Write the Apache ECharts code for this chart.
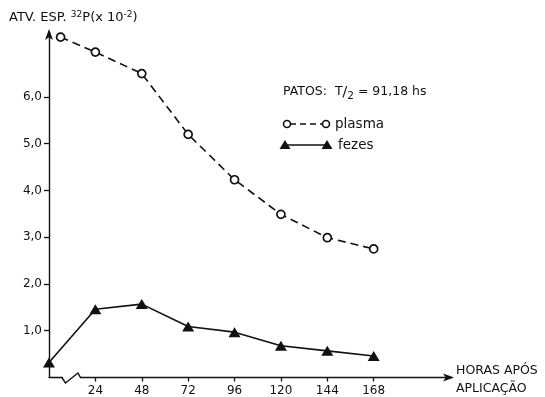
<!DOCTYPE html>
<html>
<head>
<meta charset="utf-8">
<script src="https://cdn.jsdelivr.net/npm/echarts@6/dist/echarts.min.js"></script>
<style>
html,body{margin:0;padding:0;background:#fff;}
#c{width:545px;height:397px;}
</style>
</head>
<body>
<div id="c"></div>
<script>
// ---- data ----
const fezesHours = [0, 24, 48, 72, 96, 120, 144, 168];
const fezes = [0.32, 1.46, 1.57, 1.09, 0.97, 0.68, 0.57, 0.46];
const plasmaHours = [6, 24, 48, 72, 96, 120, 144, 168];
const plasma = [7.28, 6.96, 6.50, 5.20, 4.23, 3.49, 2.99, 2.75];
const xTickValues = [24, 48, 72, 96, 120, 144, 168];
const yTickValues = [1, 2, 3, 4, 5, 6];
const seriesNames = ['plasma', 'fezes'];
const titleText = 'ATV. ESP. {sup|32}P(x 10{sup|-2})';
const legendTitle = 'PATOS:  T{sl|/}{sub|2} = 91,18 hs';
const xName = ['HORAS APÓS', 'APLICAÇÃO'];

const FONT = 'DejaVu Sans';
const INK = '#111';
const f = (s) => s + 'px "' + FONT + '"';

const chart = echarts.init(document.getElementById('c'), null, {renderer: 'canvas'});

const option = {
  animation: false,
  backgroundColor: '#fff',
  textStyle: {fontFamily: FONT, color: INK},
  grid: {left: 49, right: 94, top: 32, bottom: 19.5, containLabel: false},
  xAxis: {
    type: 'value', min: 0, max: 208,
    splitLine: {show: false},
    axisLine: {show: true, lineStyle: {color: INK, width: 1.4}, symbol: ['none', 'arrow'], symbolSize: [6, 11], symbolOffset: [0, 3]},
    axisTick: {show: true, inside: false, length: 4, lineStyle: {color: INK, width: 1.3}, customValues: xTickValues},
    axisLabel: {show: true, margin: 7, color: INK, fontFamily: FONT, fontSize: 12, customValues: xTickValues,
      formatter: v => String(v)}
  },
  yAxis: {
    type: 'value', min: 0, max: 7.39,
    splitLine: {show: false},
    axisLine: {show: true, lineStyle: {color: INK, width: 1.4}, symbol: ['none', 'arrow'], symbolSize: [6, 11], symbolOffset: [0, 3]},
    axisTick: {show: true, inside: false, length: 5, lineStyle: {color: INK, width: 1.3}, customValues: yTickValues},
    axisLabel: {show: true, margin: 7, color: INK, fontFamily: FONT, fontSize: 12, customValues: yTickValues,
      formatter: v => v.toFixed(1).replace('.', ',')}
  },
  series: [
    {
      name: seriesNames[0], type: 'line', clip: false,
      data: plasmaHours.map((h, i) => [h, plasma[i]]),
      symbol: 'circle', symbolSize: 8,
      itemStyle: {color: '#fff', borderColor: INK, borderWidth: 1.7},
      lineStyle: {color: INK, width: 1.6, type: [8, 5]},
      z: 3
    },
    {
      name: seriesNames[1], type: 'line', clip: false,
      data: fezesHours.map((h, i) => [h, fezes[i]]),
      symbol: 'triangle', symbolSize: [12, 10],
      itemStyle: {color: INK, borderColor: INK, borderWidth: 0},
      lineStyle: {color: INK, width: 1.6},
      z: 3
    }
  ]
};
chart.setOption(option);

// decorations: title, x-axis name, axis break, legend
const px = v => chart.convertToPixel({xAxisIndex: 0}, v);
const py = v => chart.convertToPixel({yAxisIndex: 0}, v);
const y0 = py(0);
const bx0 = px(7.2), bx1 = px(8.5), bx2 = px(15), bx3 = px(16.3);

const legY1 = 124, legY2 = 145;
chart.setOption({
  graphic: [
    // title
    {type: 'text', left: 9, top: 10, style: {text: titleText, font: f(13), fill: INK,
      rich: {sup: {fontSize: 9, fontFamily: FONT, fill: INK, padding: [0, 0, 7, 0]}}}},
    // x-axis name
    {type: 'text', x: 456, y: 371, style: {text: xName[0], font: f(12.5), fill: INK, verticalAlign: 'middle'}},
    {type: 'text', x: 456, y: 389, style: {text: xName[1], font: f(12.5), fill: INK, verticalAlign: 'middle'}},
    // axis break
    {type: 'rect', shape: {x: bx0, y: y0 - 2, width: bx3 - bx0, height: 4}, style: {fill: '#fff'}, z: 10},
    {type: 'polyline', shape: {points: [[bx0 - 1, y0], [bx1, y0 + 5.5], [bx2, y0 - 4.5], [bx3, y0], [bx3 + 1, y0]]},
      style: {stroke: INK, lineWidth: 1.4, fill: null}, z: 11},
    // legend header
    {type: 'text', x: 283, y: 92, style: {text: legendTitle, font: f(12.5), fill: INK, verticalAlign: 'middle',
      rich: {sl: {fontSize: 14, fontFamily: FONT, fill: INK}, sub: {fontSize: 10.5, fontFamily: FONT, fill: INK, padding: [8, 0, 0, 0]}}}},
    // plasma legend
    {type: 'line', shape: {x1: 290, y1: legY1, x2: 322, y2: legY1}, style: {stroke: INK, lineWidth: 1.6, lineDash: [6, 4]}},
    {type: 'circle', shape: {cx: 287, cy: legY1, r: 3.5}, style: {fill: '#fff', stroke: INK, lineWidth: 1.6}},
    {type: 'circle', shape: {cx: 326, cy: legY1, r: 3.5}, style: {fill: '#fff', stroke: INK, lineWidth: 1.6}},
    {type: 'text', x: 335, y: legY1, style: {text: seriesNames[0], font: f(13.5), fill: INK, verticalAlign: 'middle'}},
    // fezes legend
    {type: 'line', shape: {x1: 285, y1: legY2, x2: 327, y2: legY2}, style: {stroke: INK, lineWidth: 1.6}},
    {type: 'polygon', shape: {points: [[285, legY2 - 5], [279.5, legY2 + 4], [290.5, legY2 + 4]]}, style: {fill: INK}},
    {type: 'polygon', shape: {points: [[327, legY2 - 5], [321.5, legY2 + 4], [332.5, legY2 + 4]]}, style: {fill: INK}},
    {type: 'text', x: 338, y: legY2, style: {text: seriesNames[1], font: f(13.5), fill: INK, verticalAlign: 'middle'}}
  ]
});
</script>
</body>
</html>
